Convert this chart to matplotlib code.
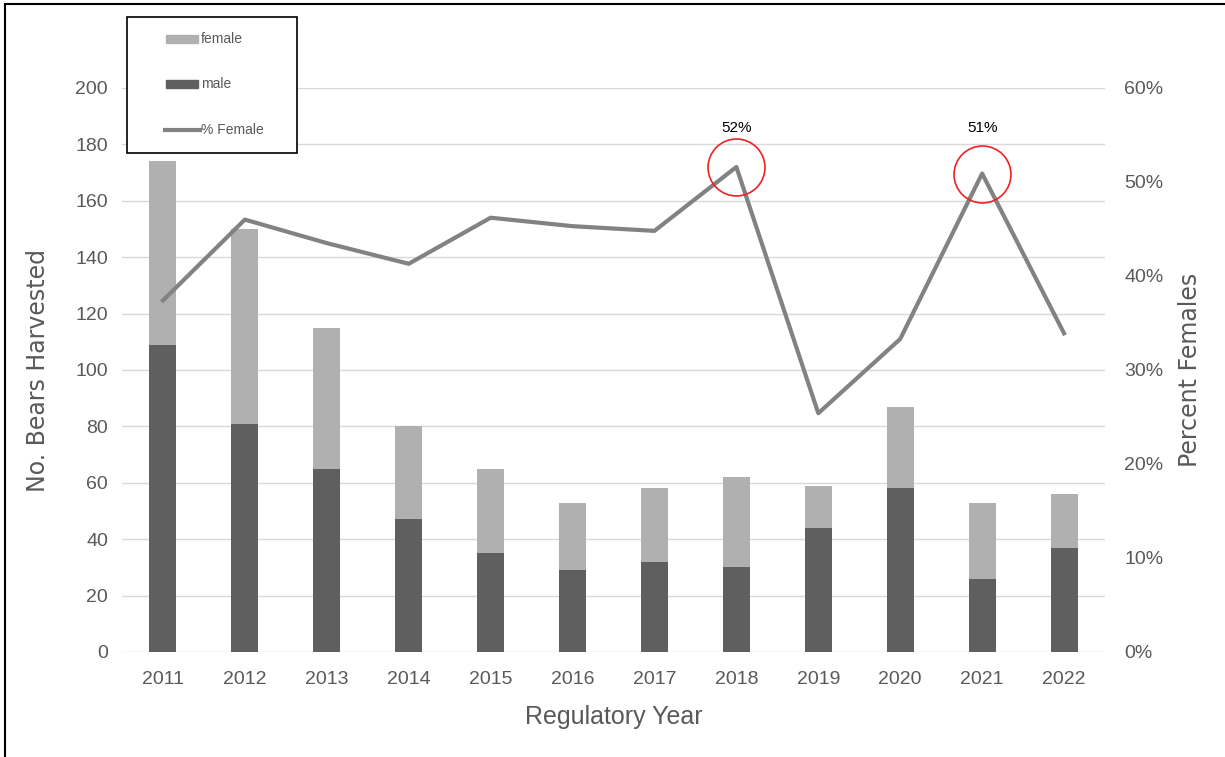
import numpy as np
import matplotlib.pyplot as plt
from matplotlib.patches import Rectangle
from matplotlib.lines import Line2D

plt.rcParams['font.family'] = ['Liberation Sans Narrow', 'Liberation Sans', 'DejaVu Sans']

# datos
years   = ['2011', '2012', '2013', '2014', '2015', '2016',
           '2017', '2018', '2019', '2020', '2021', '2022']
male    = [109, 81, 65, 47, 35, 29, 32, 30, 44, 58, 26, 37]
female  = [65, 69, 50, 33, 30, 24, 26, 32, 15, 29, 27, 19]
pct_fem = [37.4, 46.0, 43.5, 41.3, 46.2, 45.3, 44.8, 51.6, 25.4, 33.3, 50.9, 33.9]
circled = [7, 10]
circ_lbl = ['52%', '51%']
leg_lbl = ['female', 'male', '% Female']

C_FEM  = '#b0b0b0'
C_MALE = '#5f5f5f'
C_LINE = '#828282'
C_TXT  = '#595959'

W, H = 1225, 757
fig = plt.figure(figsize=[W/100, H/100], dpi=100)
ax = fig.add_axes([122/W, 1-652/H, (1105-122)/W, (652-88)/H])
ax2 = ax.twinx()

x = np.arange(len(years))
ax.bar(x, male, 0.33, color=C_MALE, zorder=2)
ax.bar(x, female, 0.33, bottom=male, color=C_FEM, zorder=2)

ax.set_xlim(-0.5, 11.5)
ax.set_ylim(0, 200)
ax.set_yticks(np.arange(0, 201, 20))
ax.grid(True, axis='y', color='#d9d9d9', linewidth=1.0, zorder=0)
ax.set_axisbelow(True)
ax.set_xticks(x)
ax.set_xticklabels(years)
ax.tick_params(axis='both', length=0, labelsize=14, colors=C_TXT, pad=10)
ax.tick_params(axis='x', pad=14)
for s in ax.spines.values():
    s.set_visible(False)
ax.set_ylabel('No. Bears Harvested', fontsize=17, color=C_TXT, labelpad=18, family='DejaVu Sans')
ax.set_xlabel('Regulatory Year', fontsize=18, color=C_TXT, labelpad=12)

ax2.plot(x, pct_fem, color=C_LINE, linewidth=3.0, zorder=3)
ax2.set_ylim(0, 60)
ax2.set_yticks(np.arange(0, 61, 10))
ax2.set_yticklabels(['%d%%' % v for v in range(0, 61, 10)])
ax2.tick_params(axis='y', length=0, labelsize=14, colors=C_TXT, pad=14)
for s in ax2.spines.values():
    s.set_visible(False)
ax2.set_ylabel('Percent Females', fontsize=17, color=C_TXT, labelpad=10, family='DejaVu Sans')

for i, lbl in zip(circled, circ_lbl):
    ax2.plot(x[i], pct_fem[i], marker='o', markersize=41, mfc='none', mec='#ee2222',
             mew=1.2, zorder=4, clip_on=False)
    ax2.text(x[i], 55.7, lbl, ha='center', va='center', fontsize=11, color='black')

# leyenda dibujada a mano
fig.patches.append(Rectangle((127/W, 1-153/H), 170/W, 136/H, transform=fig.transFigure,
                             facecolor='white', edgecolor='black', linewidth=1.2, zorder=10))
leg_y = [39, 84, 130]
fig.patches.append(Rectangle((166/W, 1-(leg_y[0]+4)/H), 32/W, 8/H, transform=fig.transFigure,
                             color=C_FEM, zorder=11))
fig.patches.append(Rectangle((166/W, 1-(leg_y[1]+4)/H), 32/W, 8/H, transform=fig.transFigure,
                             color=C_MALE, zorder=11))
fig.lines.append(Line2D([165/W, 200/W], [1-leg_y[2]/H]*2, transform=fig.transFigure,
                        color=C_LINE, linewidth=3, zorder=11))
for yy, lbl in zip(leg_y, leg_lbl):
    fig.text(201/W, 1-yy/H, lbl, ha='left', va='center', fontsize=10, color=C_TXT, zorder=12)

fig.patches.append(Rectangle((5/W, -0.1), 1.2, 1.1-4/H, transform=fig.transFigure,
                             fill=False, edgecolor='black', linewidth=1.5))

fig.savefig('out.png', dpi=100)
